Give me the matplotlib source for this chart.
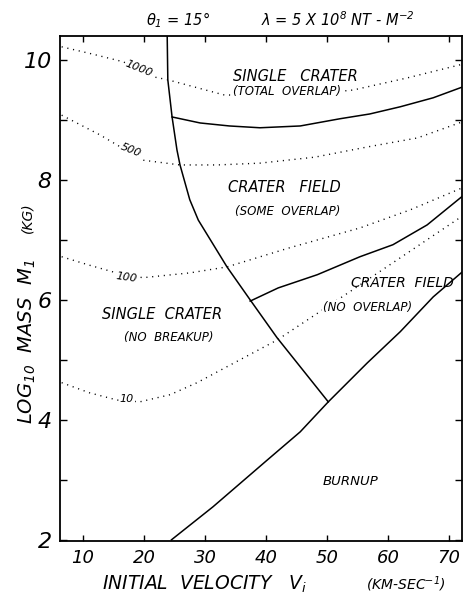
import matplotlib
matplotlib.use("Agg")
import matplotlib.pyplot as plt

# ============================================================
# DATA
# ============================================================

# boundary: single crater (no breakup) / crater field
v_breakup = [23.8, 23.9, 24.6, 25.4, 25.9, 27.5, 28.9, 33.6, 37.4, 41.8, 50.2]
m_breakup = [10.4, 9.67, 9.05, 8.5, 8.25, 7.67, 7.33, 6.55, 6.0, 5.37, 4.3]

# burnup boundary
v_burnup = [24.5, 31.3, 40.2, 45.6, 50.2, 56.6, 62.0, 67.4, 72.2]
m_burnup = [2.0, 2.55, 3.33, 3.8, 4.3, 4.95, 5.47, 6.05, 6.47]

# boundary: crater field (some overlap) / (no overlap)
v_overlap = [37.4, 42.0, 48.4, 55.4, 60.8, 66.4, 72.2]
m_overlap = [5.98, 6.2, 6.42, 6.72, 6.92, 7.25, 7.73]

# boundary: single crater (total overlap) / crater field
v_total = [24.6, 29.2, 34.0, 39.0, 45.6, 52.1, 57.0, 62.0, 67.4, 72.2]
m_total = [9.05, 8.95, 8.9, 8.87, 8.9, 9.02, 9.1, 9.22, 9.37, 9.55]

# dotted contours (number of fragments)
v_c1000 = [6.5, 11.5, 16.6, 21.5, 23.9, 33.0, 43.0, 54.3, 63.1, 72.2]
m_c1000 = [10.22, 10.1, 9.97, 9.72, 9.67, 9.42, 9.38, 9.5, 9.7, 9.93]

v_c500 = [6.5, 12.8, 19.8, 25.9, 32.0, 39.0, 48.0, 56.6, 64.8, 72.2]
m_c500 = [9.08, 8.75, 8.33, 8.25, 8.25, 8.28, 8.38, 8.55, 8.7, 8.97]

v_c100 = [6.5, 11.0, 15.5, 19.8, 27.5, 33.6, 43.9, 55.4, 63.6, 72.2]
m_c100 = [6.72, 6.58, 6.45, 6.37, 6.45, 6.55, 6.87, 7.2, 7.5, 7.87]

v_c10 = [6.5, 11.1, 15.6, 19.3, 24.3, 28.7, 35.7, 41.8, 51.0, 60.8, 72.2]
m_c10 = [4.62, 4.45, 4.33, 4.3, 4.42, 4.62, 5.0, 5.33, 5.95, 6.62, 7.4]

contour_labels = ["1000", "500", "100", "10"]
contour_label_v = [19.2, 17.9, 17.2, 17.2]
contour_label_m = [9.85, 8.5, 6.38, 4.35]
contour_label_rot = [-22, -22, -8, 0]

x_ticks = [10, 20, 30, 40, 50, 60, 70]
y_ticks = [2, 4, 6, 8, 10]
y_minor = [3, 5, 7, 9]

# ============================================================
# FIGURE
# ============================================================

plt.rcParams["font.family"] = "DejaVu Sans"
plt.rcParams["font.style"] = "italic"
plt.rcParams["mathtext.default"] = "it"

W, H = 464, 598
fig = plt.figure(figsize=(W / 100, H / 100), dpi=100)
ax = fig.add_axes([60 / W, 1 - 541 / H, (462.5 - 60) / W, (541 - 36) / H])

ax.set_xlim(6.23, 72.2)
ax.set_ylim(1.98, 10.4)

solid = dict(color="black", linewidth=1.1, zorder=3)
dotted = dict(color="black", linewidth=1.0, linestyle=(0, (0.8, 3.4)), zorder=2)

ax.plot(v_breakup, m_breakup, **solid)
ax.plot(v_burnup, m_burnup, **solid)
ax.plot(v_overlap, m_overlap, **solid)
ax.plot(v_total, m_total, **solid)

for v, m in [(v_c1000, m_c1000), (v_c500, m_c500), (v_c100, m_c100), (v_c10, m_c10)]:
    ax.plot(v, m, **dotted)

for lab, v, m, r in zip(contour_labels, contour_label_v, contour_label_m, contour_label_rot):
    ax.text(v, m, lab, fontsize=8, ha="center", va="center", rotation=r, zorder=4,
            bbox=dict(facecolor="white", edgecolor="none", pad=0.5))

# region labels
def region(x, y, s, size):
    ax.text(x, y, s, fontsize=size, ha="center", va="center", zorder=4,
            bbox=dict(facecolor="white", edgecolor="none", pad=0.3))

region(44.8, 9.73, "SINGLE   CRATER", 10.5)
region(43.4, 9.47, "(TOTAL  OVERLAP)", 8.5)
region(43.0, 7.87, "CRATER   FIELD", 10.5)
region(43.6, 7.48, "(SOME  OVERLAP)", 8.5)
ax.text(62.3, 6.28, "CRATER  FIELD", fontsize=10, ha="center", va="center", zorder=1)
region(56.6, 5.88, "(NO  OVERLAP)", 8.5)
region(23.0, 5.75, "SINGLE  CRATER", 10.5)
region(24.1, 5.37, "(NO  BREAKUP)", 8.5)
ax.text(53.9, 2.98, "BURNUP", fontsize=9.5, ha="center", va="center")

# axes styling
for sp in ax.spines.values():
    sp.set_linewidth(1.3)

ax.set_xticks(x_ticks)
ax.set_xticklabels([str(t) for t in x_ticks], fontsize=13)
ax.set_yticks(y_ticks)
ax.set_yticklabels([str(t) for t in y_ticks], fontsize=16)
ax.set_yticks(y_minor, minor=True)
ax.tick_params(axis="x", which="both", direction="in", top=True, length=4, width=1, pad=6)
ax.tick_params(axis="y", which="both", direction="in", right=True, length=5, width=1, pad=6)

# titles
fig.text(178 / W, 1 - 20 / H, r"$\theta_1$ = 15°", fontsize=10.5, ha="center", va="center")
fig.text(338 / W, 1 - 20 / H, r"$\lambda$ = 5 X 10$^8$ NT - M$^{-2}$", fontsize=10.5,
         ha="center", va="center")

# axis labels
fig.text(205 / W, 1 - 584 / H, r"INITIAL  VELOCITY   V$_i$", fontsize=13.5, ha="center",
         va="center")
fig.text(406 / W, 1 - 584 / H, r"(KM-SEC$^{-1}$)", fontsize=10, ha="center", va="center")
fig.text(27 / W, 1 - 342 / H, r"LOG$_{10}$  MASS  M$_1$", fontsize=14, ha="center", va="center",
         rotation=90)
fig.text(27 / W, 1 - 218 / H, "(KG)", fontsize=10, ha="center", va="center", rotation=90)

fig.savefig("out.png", dpi=100)
